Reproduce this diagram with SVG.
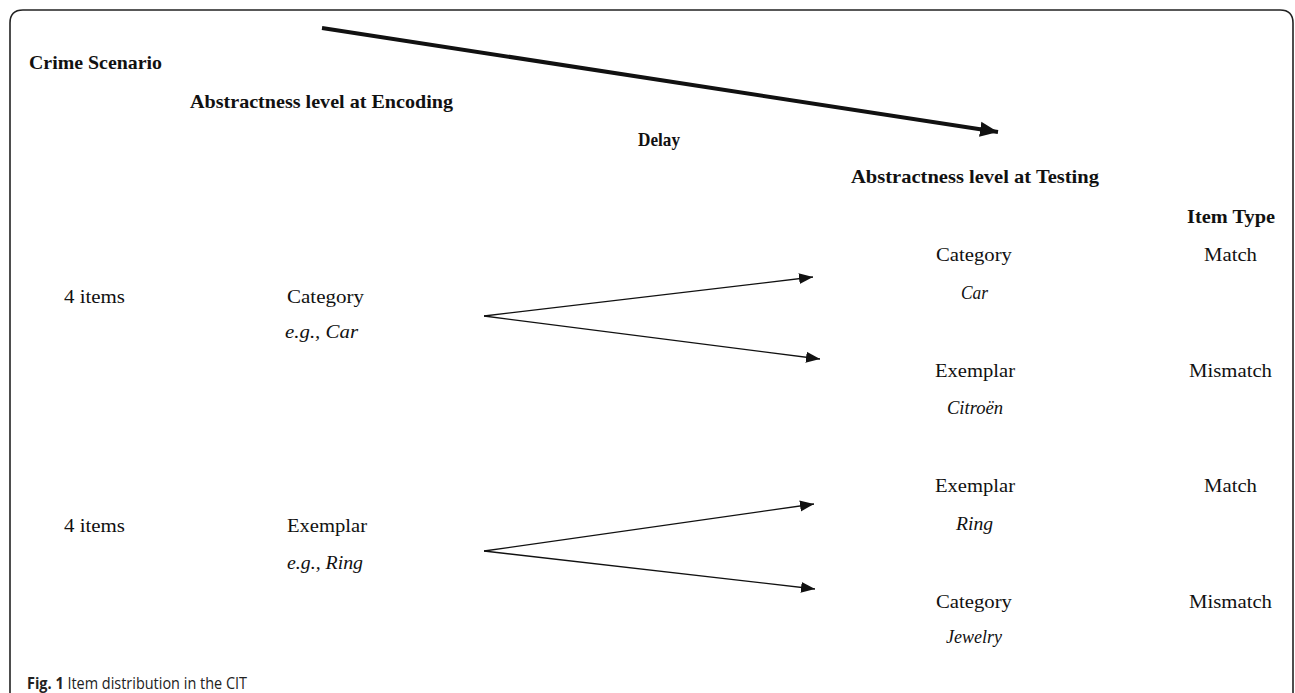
<svg xmlns="http://www.w3.org/2000/svg" width="1295" height="693" viewBox="0 0 1295 693">
<style>
  text { font-family: "Liberation Serif", "DejaVu Serif", serif; font-size: 19px; fill: #111; }
  .b { font-weight: bold; }
  .i { font-style: italic; }
  .cap { font-family: "Open Sans", "Liberation Sans", sans-serif; font-size: 15.5px; fill: #222; }
  .frame { fill: none; stroke: #222; stroke-width: 1.6; }
  .thin { stroke: #111; stroke-width: 1.3; fill: none; }
  .thick { stroke: #111; stroke-width: 4; fill: none; }
</style>
<defs>
  <marker id="ah" markerUnits="userSpaceOnUse" markerWidth="15" markerHeight="12" refX="14" refY="6" orient="auto">
    <path d="M0,0.5 L14,6 L0,11.5 z" fill="#111"/>
  </marker>
  <marker id="ahBig" markerUnits="userSpaceOnUse" markerWidth="20" markerHeight="16" refX="18" refY="8" orient="auto">
    <path d="M0,0.5 L18,8 L0,15.5 z" fill="#111"/>
  </marker>
</defs>
<rect x="0" y="0" width="1295" height="693" fill="#fff"/>
<path class="frame" d="M10,700 L10,23 Q10,10 23,10 L1280,10 Q1293,10 1293,23 L1293,700"/>

<g id="connectors">
  <line class="thick" x1="322" y1="28" x2="998" y2="132" marker-end="url(#ahBig)"/>
  <line class="thin" x1="484" y1="316" x2="813" y2="277" marker-end="url(#ah)"/>
  <line class="thin" x1="484" y1="316" x2="820" y2="359" marker-end="url(#ah)"/>
  <line class="thin" x1="484" y1="551" x2="814" y2="504" marker-end="url(#ah)"/>
  <line class="thin" x1="484" y1="551" x2="815" y2="589" marker-end="url(#ah)"/>
</g>

<g id="header-crime"><text class="b" x="29" y="69" textLength="133" lengthAdjust="spacingAndGlyphs">Crime Scenario</text></g>
<g id="header-encoding"><text class="b" x="190" y="108" textLength="263" lengthAdjust="spacingAndGlyphs">Abstractness level at Encoding</text></g>
<g id="header-delay"><text class="b" x="638" y="146" textLength="42" lengthAdjust="spacingAndGlyphs">Delay</text></g>
<g id="header-testing"><text class="b" x="851" y="183" textLength="248" lengthAdjust="spacingAndGlyphs">Abstractness level at Testing</text></g>
<g id="header-itemtype"><text class="b" x="1187" y="223" textLength="88" lengthAdjust="spacingAndGlyphs">Item Type</text></g>

<g id="enc-category">
  <text x="64" y="303" textLength="61" lengthAdjust="spacingAndGlyphs">4 items</text>
  <text x="287" y="303" textLength="77" lengthAdjust="spacingAndGlyphs">Category</text>
  <text class="i" x="285" y="338" textLength="73" lengthAdjust="spacingAndGlyphs">e.g., Car</text>
</g>
<g id="enc-exemplar">
  <text x="64" y="532" textLength="61" lengthAdjust="spacingAndGlyphs">4 items</text>
  <text x="287" y="532" textLength="80" lengthAdjust="spacingAndGlyphs">Exemplar</text>
  <text class="i" x="287" y="569" textLength="76" lengthAdjust="spacingAndGlyphs">e.g., Ring</text>
</g>

<g id="test-1">
  <text x="936" y="261" textLength="76" lengthAdjust="spacingAndGlyphs">Category</text>
  <text class="i" x="961" y="299" textLength="27" lengthAdjust="spacingAndGlyphs">Car</text>
  <text x="1204" y="261" textLength="53" lengthAdjust="spacingAndGlyphs">Match</text>
</g>
<g id="test-2">
  <text x="935" y="377" textLength="80" lengthAdjust="spacingAndGlyphs">Exemplar</text>
  <text class="i" x="947" y="414" textLength="56" lengthAdjust="spacingAndGlyphs">Citroën</text>
  <text x="1189" y="377" textLength="83" lengthAdjust="spacingAndGlyphs">Mismatch</text>
</g>
<g id="test-3">
  <text x="935" y="492" textLength="80" lengthAdjust="spacingAndGlyphs">Exemplar</text>
  <text class="i" x="956" y="530" textLength="37" lengthAdjust="spacingAndGlyphs">Ring</text>
  <text x="1204" y="492" textLength="53" lengthAdjust="spacingAndGlyphs">Match</text>
</g>
<g id="test-4">
  <text x="936" y="608" textLength="76" lengthAdjust="spacingAndGlyphs">Category</text>
  <text class="i" x="946" y="643" textLength="56" lengthAdjust="spacingAndGlyphs">Jewelry</text>
  <text x="1189" y="608" textLength="83" lengthAdjust="spacingAndGlyphs">Mismatch</text>
</g>

<g id="caption">
  <text class="cap" x="27" y="689" textLength="220" lengthAdjust="spacingAndGlyphs"><tspan font-weight="bold">Fig. 1</tspan> Item distribution in the CIT</text>
</g>
</svg>
